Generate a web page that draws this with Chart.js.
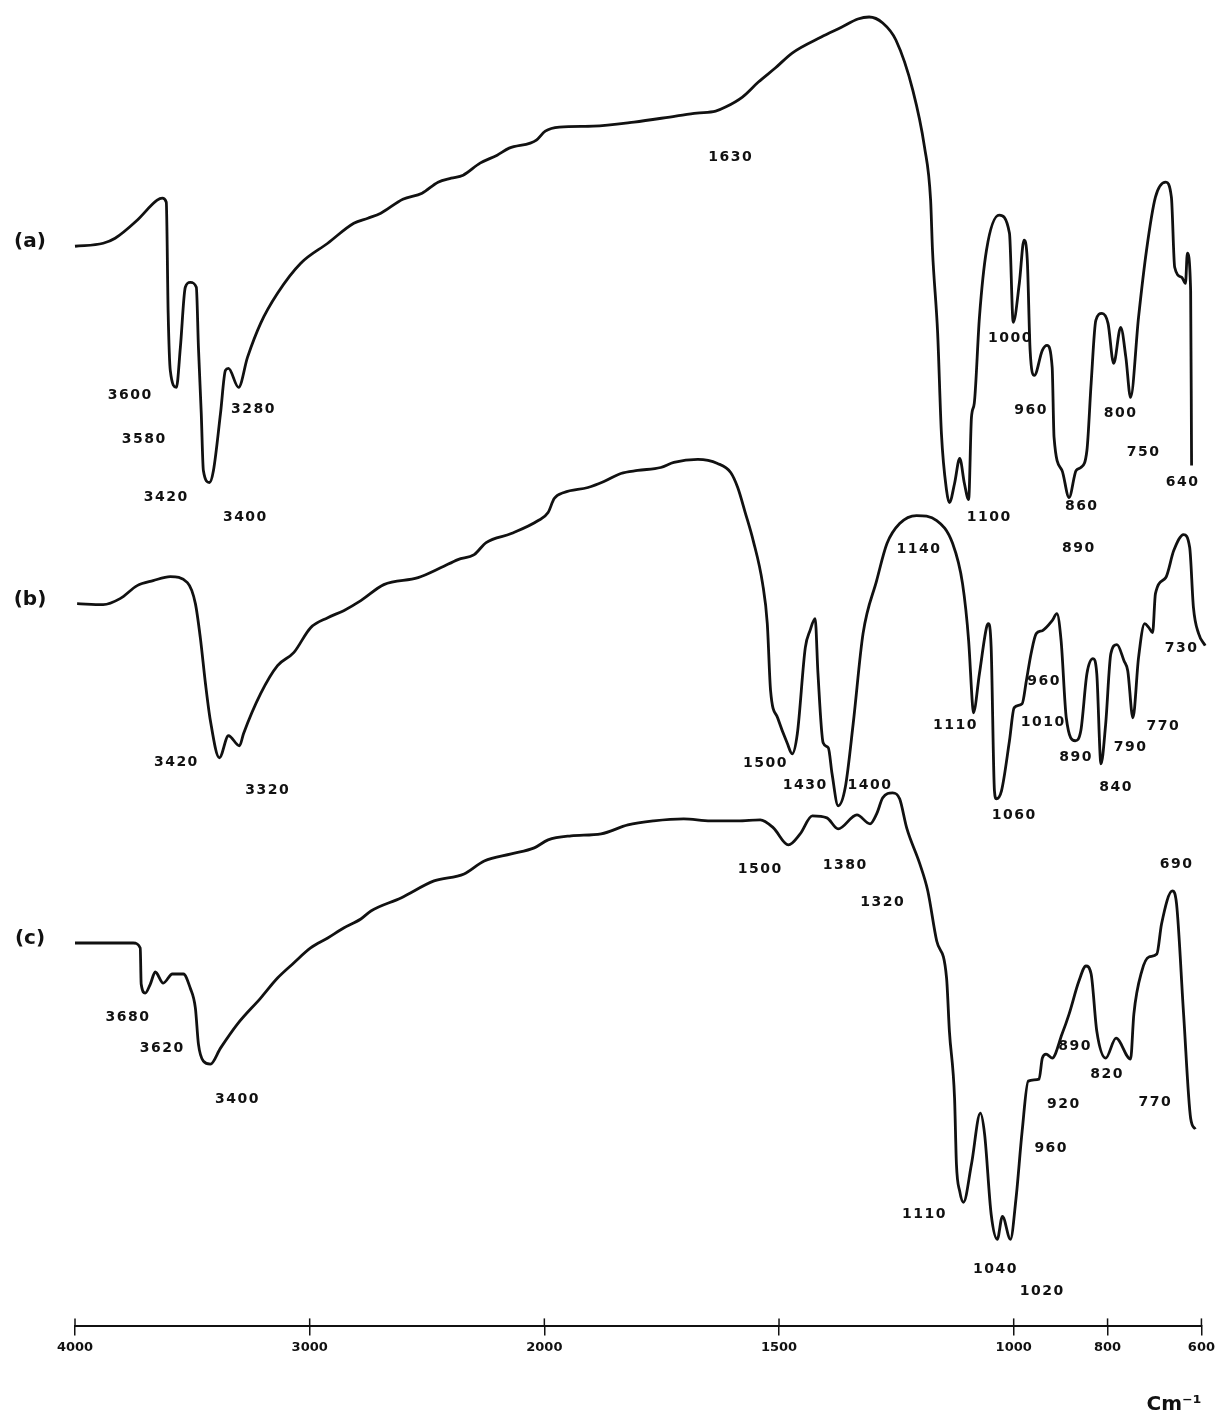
<!DOCTYPE html>
<html>
<head>
<meta charset="utf-8">
<script src="https://cdn.jsdelivr.net/npm/chart.js@4.4.0/dist/chart.umd.min.js"></script>
<style>
  html, body { margin: 0; padding: 0; background: #fff; }
  #wrap { width: 1219px; height: 1418px; }
</style>
</head>
<body>
<div id="wrap"><canvas id="spectrum"></canvas></div>
<script>
// wavenumbers (cm-1) and pen levels
const waveA = [4000, 3880, 3829, 3735, 3650, 3628, 3611, 3603, 3594, 3568, 3551, 3530, 3509, 3483, 3474, 3462, 3453, 3427, 3410, 3380, 3359, 3346, 3303, 3265, 3209, 3137, 3038, 2923, 2812, 2752, 2697, 2603, 2521, 2453, 2397, 2346, 2274, 2201, 2150, 2060, 2034, 1998, 1968, 1896, 1809, 1720, 1675, 1635, 1614, 1578, 1544, 1508, 1472, 1410, 1366, 1332, 1308, 1279, 1251, 1215, 1190, 1177, 1173, 1162, 1154, 1143, 1137, 1126, 1115, 1105, 1096, 1090, 1084, 1073, 1058, 1031, 1009, 1001, 988, 978, 971, 965, 956, 939, 929, 918, 914, 897, 882, 867, 857, 844, 835, 825, 812, 799, 787, 772, 761, 751, 734, 717, 698, 676, 664, 657, 642, 634, 630, 623, 621];
const levelA = [107.9, 108.2, 108.7, 110.5, 112.5, 112.7, 112.3, 101.2, 95.5, 93.8, 97.8, 103.8, 104.3, 103.8, 97.8, 91.2, 85.5, 84.3, 85.5, 91.2, 95.5, 95.7, 93.8, 96.8, 100.2, 103.2, 106.2, 108.2, 110.2, 110.7, 111.2, 112.6, 113.2, 114.3, 114.7, 115.0, 116.2, 117.0, 117.7, 118.2, 118.5, 119.4, 119.8, 119.9, 120.3, 120.9, 121.2, 121.4, 121.8, 122.8, 124.3, 125.7, 127.2, 128.8, 129.8, 130.6, 130.8, 130.2, 128.5, 123.5, 117.8, 112.5, 107.5, 99.2, 89.2, 83.5, 82.3, 84.2, 86.7, 84.2, 82.6, 90.8, 92.2, 100.8, 107.5, 111.0, 109.2, 100.3, 104.2, 108.5, 106.5, 97.5, 95.0, 97.5, 98.0, 95.8, 88.8, 85.5, 82.8, 85.5, 85.8, 87.5, 94.2, 100.5, 101.2, 100.2, 96.2, 99.8, 96.8, 92.8, 100.8, 107.5, 112.8, 114.3, 112.8, 105.8, 104.8, 104.2, 107.2, 103.5, 86.0];

const waveB = [3991, 3880, 3808, 3735, 3667, 3594, 3521, 3487, 3466, 3444, 3423, 3385, 3346, 3299, 3282, 3209, 3137, 3068, 2996, 2923, 2855, 2782, 2684, 2538, 2440, 2368, 2299, 2248, 2141, 2026, 1992, 1979, 1958, 1907, 1873, 1837, 1801, 1752, 1724, 1673, 1631, 1603, 1588, 1572, 1555, 1535, 1525, 1518, 1503, 1482, 1472, 1461, 1444, 1434, 1423, 1417, 1406, 1395, 1387, 1374, 1359, 1342, 1321, 1292, 1270, 1243, 1207, 1164, 1130, 1109, 1096, 1088, 1086, 1073, 1058, 1054, 1048, 1041, 1037, 1026, 1009, 999, 982, 973, 963, 952, 939, 918, 908, 899, 888, 869, 857, 844, 831, 823, 814, 804, 793, 780, 765, 757, 746, 734, 721, 712, 704, 698, 676, 659, 638, 625, 617, 606, 592];
const levelB = [72.2, 72.1, 72.7, 74.0, 74.5, 74.9, 74.3, 72.2, 68.8, 64.2, 60.5, 56.8, 59.0, 58.0, 59.2, 63.2, 66.0, 67.3, 69.8, 70.8, 71.5, 72.5, 74.1, 74.8, 75.8, 76.6, 77.1, 78.3, 79.2, 80.5, 81.3, 82.7, 83.3, 83.8, 84.4, 85.2, 85.5, 85.8, 86.3, 86.6, 86.2, 85.3, 83.8, 81.3, 78.5, 74.2, 70.2, 63.5, 60.8, 58.2, 57.2, 59.2, 67.8, 69.5, 70.7, 65.2, 58.3, 57.8, 55.2, 52.0, 53.8, 60.2, 69.2, 74.5, 78.2, 80.2, 81.0, 80.5, 78.2, 74.2, 68.5, 62.2, 61.3, 65.2, 69.8, 70.2, 67.8, 53.5, 52.7, 53.5, 58.5, 61.8, 62.2, 64.5, 67.2, 69.2, 69.5, 70.5, 71.2, 68.5, 60.8, 58.5, 59.5, 65.2, 66.7, 65.2, 56.2, 60.2, 67.2, 68.1, 66.5, 65.5, 60.8, 66.8, 70.2, 69.8, 69.3, 73.2, 74.8, 77.5, 79.1, 77.8, 71.8, 69.2, 68.0];

const waveC = [4000, 3752, 3722, 3718, 3701, 3679, 3658, 3624, 3585, 3538, 3509, 3487, 3474, 3453, 3423, 3380, 3308, 3209, 3137, 3068, 2996, 2923, 2855, 2782, 2739, 2611, 2470, 2342, 2256, 2141, 2043, 1992, 1943, 1879, 1822, 1767, 1703, 1646, 1588, 1540, 1512, 1480, 1455, 1429, 1398, 1374, 1334, 1306, 1292, 1279, 1258, 1243, 1228, 1200, 1183, 1164, 1143, 1137, 1126, 1122, 1115, 1107, 1090, 1071, 1062, 1048, 1035, 1024, 1007, 995, 982, 969, 946, 939, 931, 918, 897, 882, 861, 846, 835, 823, 804, 782, 751, 744, 727, 712, 695, 685, 662, 653, 638, 623, 613];
const levelC = [38.3, 38.3, 37.8, 34.2, 33.3, 34.2, 35.4, 34.3, 35.2, 35.2, 33.8, 31.8, 28.2, 26.5, 26.2, 27.8, 30.2, 32.8, 34.8, 36.3, 37.8, 38.8, 39.8, 40.7, 41.5, 42.8, 44.5, 45.2, 46.5, 47.2, 47.8, 48.6, 49.0, 49.2, 50.1, 50.5, 50.7, 50.5, 50.5, 50.6, 49.8, 48.1, 49.2, 51.0, 50.8, 49.7, 51.1, 50.2, 51.2, 52.8, 53.3, 52.7, 49.8, 46.2, 43.5, 38.5, 34.8, 29.5, 22.8, 16.2, 13.5, 12.4, 16.2, 21.3, 19.2, 11.2, 8.7, 11.0, 8.7, 12.8, 19.5, 24.5, 24.7, 26.8, 27.2, 26.8, 29.2, 31.2, 34.5, 36.0, 35.2, 29.5, 26.8, 28.8, 26.7, 31.2, 35.5, 36.9, 37.2, 40.2, 43.5, 42.2, 31.2, 20.8, 19.7];

// band labels: text, wavenumber, level
const labelsA = [['1630', 1603, 116.8], ['3600', 3765, 93.0], ['3580', 3705, 88.6], ['3280', 3239, 91.6], ['3420', 3611, 82.8], ['3400', 3274, 80.8], ['1000', 1007, 98.7], ['960', 963, 91.5], ['800', 772, 91.2], ['750', 723, 87.3], ['640', 640, 84.3], ['1100', 1052, 80.8], ['860', 855, 81.9], ['890', 861, 77.7]];
const labelsB = [['1140', 1202, 77.6], ['3420', 3568, 56.3], ['3320', 3179, 53.5], ['1500', 1529, 56.2], ['1430', 1444, 54.0], ['1400', 1306, 54.0], ['1110', 1124, 60.0], ['960', 935, 64.4], ['1010', 937, 60.3], ['890', 867, 56.8], ['790', 751, 57.8], ['840', 782, 53.8], ['770', 681, 59.9], ['730', 642, 67.7], ['1060', 999, 51.0]];
const labelsC = [['1500', 1540, 45.7], ['1380', 1359, 46.1], ['1320', 1279, 42.4], ['690', 653, 46.2], ['3680', 3774, 30.9], ['3620', 3628, 27.8], ['3400', 3308, 22.7], ['890', 869, 28.0], ['820', 801, 25.2], ['920', 893, 22.2], ['770', 698, 22.4], ['960', 920, 17.8], ['1110', 1190, 11.2], ['1040', 1039, 5.7], ['1020', 939, 3.5]];

const traceNames = ['(a)', '(b)', '(c)'];
const tickValues = [4000, 3000, 2000, 1500, 1000, 800, 600];

// the chart paper doubles its scale below 2000 cm-1
function toAxis(w) {
  return w >= 2000 ? 4000 - w : 2000 + 2 * (2000 - w);
}
function fromAxis(u) {
  return u <= 2000 ? 4000 - u : 2000 - (u - 2000) / 2;
}

function buildPoints(waves, levels) {
  return waves.map((w, i) => ({ x: toAxis(w), y: levels[i] }));
}

function traceDataset(name, waves, levels) {
  return {
    label: name,
    data: buildPoints(waves, levels),
    showLine: true,
    borderColor: '#111',
    borderWidth: 2.8,
    pointRadius: 0,
    cubicInterpolationMode: 'monotone',
    clip: false
  };
}

const annotate = {
  id: 'annotate',
  afterDraw(chart) {
    const { ctx, chartArea } = chart;
    const x = chart.scales.x;
    const y = chart.scales.y;
    ctx.save();
    ctx.fillStyle = '#111';
    ctx.textAlign = 'center';
    ctx.textBaseline = 'middle';
    ctx.font = 'bold 14px "DejaVu Sans"';
    ctx.letterSpacing = '1.5px';
    [labelsA, labelsB, labelsC].forEach(list => {
      list.forEach(([text, w, v]) => {
        ctx.fillText(text, x.getPixelForValue(toAxis(w)), y.getPixelForValue(v));
      });
    });

    ctx.font = 'bold 20px "DejaVu Sans"';
    ctx.letterSpacing = '0px';
    const starts = [levelA[0], levelB[0], levelC[0]];
    traceNames.forEach((name, i) => {
      ctx.fillText(name, chartArea.left - 45, y.getPixelForValue(starts[i]) - 4);
    });

    // tick marks cross the axis line
    ctx.strokeStyle = '#111';
    ctx.lineWidth = 1.5;
    x.ticks.forEach(t => {
      const px = x.getPixelForValue(t.value);
      ctx.beginPath();
      ctx.moveTo(px, chartArea.bottom - 8);
      ctx.lineTo(px, chartArea.bottom);
      ctx.stroke();
    });
    ctx.restore();
  }
};

new Chart(document.getElementById('spectrum'), {
  type: 'scatter',
  data: {
    datasets: [
      traceDataset('a', waveA, levelA),
      traceDataset('b', waveB, levelB),
      traceDataset('c', waveC, levelC)
    ]
  },
  options: {
    responsive: true,
    maintainAspectRatio: false,
    animation: false,
    devicePixelRatio: 1,
    layout: { padding: { left: 75, right: 16, top: 15, bottom: 1 } },
    plugins: {
      legend: { display: false },
      tooltip: { enabled: false }
    },
    scales: {
      x: {
        type: 'linear',
        min: 0,
        max: 4800,
        afterBuildTicks: scale => {
          scale.ticks = tickValues.map(w => ({ value: toAxis(w) }));
        },
        ticks: {
          autoSkip: false,
          maxRotation: 0,
          padding: 4,
          color: '#111',
          font: { family: 'DejaVu Sans', size: 13, weight: 'bold' },
          callback: value => String(Math.round(fromAxis(value)))
        },
        grid: { drawOnChartArea: false, tickLength: 9, color: '#111', lineWidth: 1.5 },
        border: { color: '#111', width: 2 },
        title: {
          display: true,
          text: 'Cm⁻¹',
          align: 'end',
          color: '#111',
          font: { family: 'DejaVu Sans', size: 20, weight: 'bold' },
          padding: { top: 34, bottom: 0 }
        }
      },
      y: {
        display: false,
        min: 0,
        max: 131
      }
    }
  },
  plugins: [annotate]
});
</script>
</body>
</html>
